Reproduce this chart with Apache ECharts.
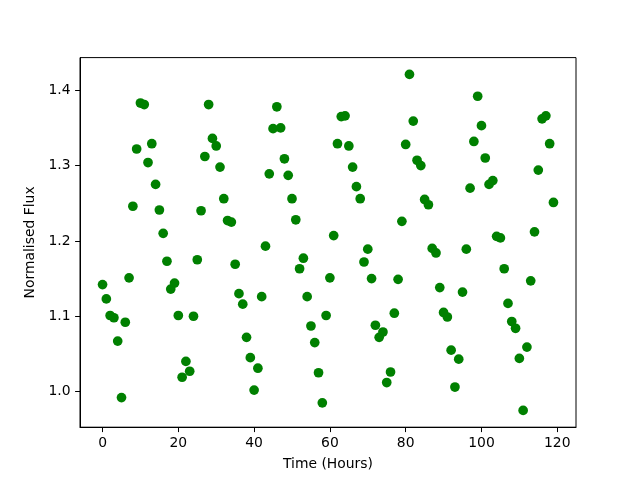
<!DOCTYPE html>
<html>
<head>
<meta charset="utf-8">
<script src="https://cdn.jsdelivr.net/npm/echarts@6/dist/echarts.min.js"></script>
<style>html,body{margin:0;padding:0;background:#fff}#c{width:640px;height:480px}</style>
</head>
<body>
<div id="c"></div>
<script>
const hours = [];
for (let i = 0; i < 120; i++) hours.push(i);
const flux = [
1.142,1.123,1.101,1.098,1.067,0.992,1.092,1.151,1.246,1.322,
1.383,1.381,1.304,1.329,1.275,1.241,1.210,1.173,1.136,1.144,
1.101,1.019,1.040,1.027,1.100,1.175,1.240,1.312,1.381,1.336,
1.326,1.298,1.256,1.227,1.225,1.169,1.130,1.116,1.072,1.045,
1.002,1.031,1.126,1.193,1.289,1.349,1.378,1.350,1.309,1.287,
1.256,1.228,1.163,1.177,1.126,1.087,1.065,1.025,0.985,1.101,
1.151,1.207,1.329,1.365,1.366,1.326,1.298,1.272,1.256,1.172,
1.189,1.150,1.088,1.072,1.079,1.012,1.026,1.104,1.149,1.226,
1.328,1.421,1.359,1.307,1.300,1.255,1.248,1.190,1.184,1.138,
1.105,1.099,1.055,1.006,1.043,1.132,1.189,1.270,1.332,1.392,
1.353,1.310,1.275,1.280,1.206,1.204,1.163,1.117,1.093,1.084,
1.044,0.975,1.059,1.147,1.212,1.294,1.362,1.366,1.329,1.251
];
const xTicks = [0, 20, 40, 60, 80, 100, 120];
const yTicks = [1.0, 1.1, 1.2, 1.3, 1.4];
const xLabel = 'Time (Hours)';
const yLabel = 'Normalised Flux';

function lims(arr) {
  const mn = Math.min(...arr), mx = Math.max(...arr), m = (mx - mn) * 0.05;
  return [mn - m, mx + m];
}
const [xmin, xmax] = lims(hours);
const [ymin, ymax] = lims(flux);

const font = 'DejaVu Sans';
const chart = echarts.init(document.getElementById('c'), null, {renderer: 'canvas'});
chart.setOption({
  animation: false,
  backgroundColor: '#fff',
  grid: {left: 80, top: 57.6, width: 496, height: 369.6, show: true, borderColor: '#000', borderWidth: 1, backgroundColor: 'transparent'},
  xAxis: {
    type: 'value', min: xmin, max: xmax,
    name: xLabel, nameLocation: 'middle', nameGap: 30,
    nameTextStyle: {fontFamily: font, fontSize: 13.9, color: '#000'},
    axisLine: {show: true, onZero: false, lineStyle: {color: '#000', width: 1}},
    axisTick: {show: true, length: 4.9, lineStyle: {color: '#000', width: 1}, customValues: xTicks},
    axisLabel: {fontFamily: font, fontSize: 13.9, color: '#000', margin: 9.5, customValues: xTicks, formatter: v => String(Math.round(v))},
    splitLine: {show: false}
  },
  yAxis: {
    type: 'value', min: ymin, max: ymax,
    name: yLabel, nameLocation: 'middle', nameGap: 37, nameRotate: 90,
    nameTextStyle: {fontFamily: font, fontSize: 13.9, color: '#000'},
    axisLine: {show: true, onZero: false, lineStyle: {color: '#000', width: 1}},
    axisTick: {show: true, length: 4.9, lineStyle: {color: '#000', width: 1}, customValues: yTicks},
    axisLabel: {fontFamily: font, fontSize: 13.9, color: '#000', margin: 9.5, customValues: yTicks, formatter: v => v.toFixed(1)},
    splitLine: {show: false}
  },
  series: [{
    type: 'scatter',
    data: hours.map((h, i) => [h, flux[i]]),
    symbol: 'circle',
    symbolSize: 9.7,
    itemStyle: {color: '#008000', opacity: 1},
    emphasis: {disabled: true}
  }]
});
</script>
</body>
</html>
